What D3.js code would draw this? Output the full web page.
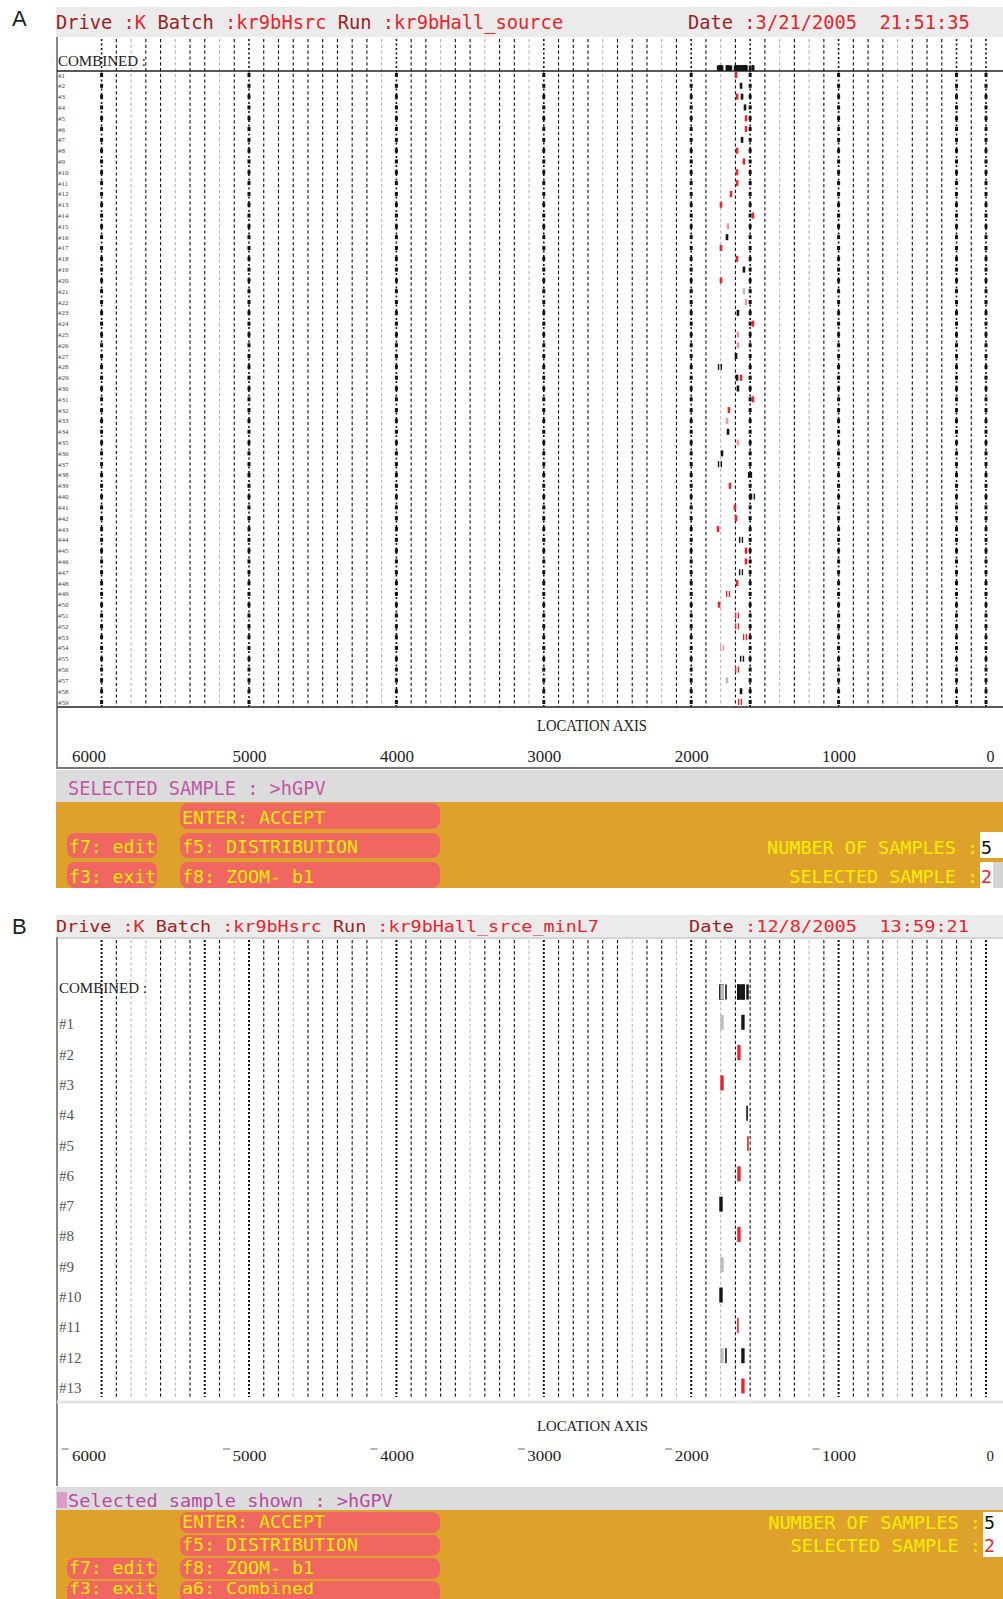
<!DOCTYPE html>
<html>
<head>
<meta charset="utf-8">
<script src="https://cdn.jsdelivr.net/npm/d3@7"></script>
<style>
body { margin: 0; background: #fff; }
svg { display: block; }
text { white-space: pre; }
</style>
</head>
<body>
<div id="chart-area"></div>
<script>
// Data
// ****
const locationTicks = [6000, 5000, 4000, 3000, 2000, 1000, 0]
// size standard lines (bp) drawn bold / faint, the rest are plain dashed
const darkA = [6000, 5000, 4000, 3000, 2000, 1600, 1000, 200, 0]
const lightA = [5800, 5500, 5200, 4100, 3700, 3400, 3100, 2600, 2200, 1800, 1400, 1200, 600]
const darkB = [6000, 5300, 5000, 4000, 3000, 2000, 1000, 0]
const lightB = [5800, 5700, 5500, 5100, 4700, 4100, 3500, 3100, 2400, 2100, 1800, 1200, 600]

const lanesA = d3.range(1, 60).map(i => "#" + i)
const lanesB = d3.range(1, 14).map(i => "#" + i)

// [lane, location, dye, peaks]
const bandsA = [
	[1,1696,"r",1],[2,1662,"k",1],[3,1689,"r",1],[3,1655,"k",1],[4,1635,"k",1],[5,1628,"r",1],
	[6,1628,"r",1],[7,1655,"k",1],[8,1689,"r",1],[9,1642,"r",1],[10,1689,"r",1],[11,1689,"r",1],
	[12,1730,"r",1],[13,1798,"r",1],[14,1581,"r",1],[15,1750,"rl",1],[16,1757,"k",1],[17,1798,"r",1],
	[18,1689,"r",1],[19,1642,"k",1],[20,1798,"r",1],[21,1642,"kl",1],[22,1628,"rl",1],[23,1683,"k",1],
	[24,1581,"r",1],[25,1683,"rl",1],[26,1683,"rl",1],[27,1696,"k",1],[28,1805,"k",2],[29,1689,"k",1],
	[29,1662,"r",1],[30,1683,"k",1],[31,1581,"r",1],[32,1744,"r",1],[33,1757,"rl",1],[34,1750,"k",1],
	[35,1683,"rl",1],[36,1791,"k",1],[37,1805,"k",2],[38,1601,"k",2],[39,1737,"r",1],[40,1581,"k",2],
	[41,1703,"r",1],[42,1696,"r",1],[43,1818,"r",1],[44,1662,"k",2],[45,1628,"r",1],[46,1628,"r",1],
	[47,1662,"k",2],[48,1689,"r",1],[49,1750,"r",2],[50,1811,"r",1],[51,1689,"r",2],[52,1689,"r",2],
	[53,1635,"r",2],[54,1791,"rl",2],[55,1655,"k",2],[56,1689,"r",2],[57,1757,"kl",1],[58,1662,"k",1],
	[59,1669,"r",2]
]

// [lane, location, dye, strength]
const bandsB = [
	[1,1791,"kl",2],[1,1649,"k",2],[2,1676,"r",2],[3,1791,"r",2],[4,1621,"k",1],[5,1615,"r",1],
	[6,1676,"r",2],[7,1798,"k",2],[8,1676,"r",2],[9,1791,"kl",2],[10,1798,"k",2],[11,1683,"r",1],
	[12,1791,"kl",2],[12,1764,"k",1],[12,1649,"k",2],[13,1649,"r",2]
]

const headerA = [["Drive ", "dark"], [":K ", "bright"], ["Batch ", "dark"], [":kr9bHsrc ", "bright"], ["Run ", "dark"], [":kr9bHall_source", "bright"]]
const dateA = [["Date ", "dark"], [":3/21/2005  21:51:35", "bright"]]
const headerB = [["Drive ", "dark"], [":K ", "bright"], ["Batch ", "dark"], [":kr9bHsrc ", "bright"], ["Run ", "dark"], [":kr9bHall_srce_minL7", "bright"]]
const dateB = [["Date ", "dark"], [":12/8/2005  13:59:21", "bright"]]

// Config
// ******
const W = 1003, H = 1599
const mono = "DejaVu Sans Mono"
const serif = "Liberation Serif"
const headColor = {dark: "#9c1d22", bright: "#e8232a"}
const dyeColor = {r: "#e8242c", k: "#151515", rl: "#f49a9a", kl: "#bdbdbd"}
const orange = "#dea22c", btnRed = "#f06660", yellow = "#f6ee00", band = "#dcdcdc"

const svg = d3.select("#chart-area").append("svg").attr("width", W).attr("height", H)
svg.append("rect").attr("width", W).attr("height", H).attr("fill", "#fff")

const x = d3.scaleLinear().domain([6000, 0]).range([101.6, 986])
const gridValues = x.ticks(60)

function lineStyle(v, dark, light) {
	if (dark.includes(v)) return "dark"
	if (light.includes(v)) return "light"
	return "plain"
}

function monoText(g, x0, y, str, size, adv, fill) {
	const s = str.replace(/\s+$/, "")
	return g.append("text")
		.attr("x", x0).attr("y", y)
		.attr("font-family", mono).attr("font-size", size)
		.attr("fill", fill)
		.attr("textLength", s.length * adv).attr("lengthAdjust", "spacingAndGlyphs")
		.text(s)
}

function monoParts(g, x0, y, parts, size, adv) {
	let i = 0
	parts.forEach(([s, c]) => {
		monoText(g, x0 + i * adv, y, s, size, adv, headColor[c])
		i += s.length
	})
}

function button(g, x0, y0, w, h, label, size, adv, base) {
	g.append("rect").attr("x", x0).attr("y", y0).attr("width", w).attr("height", h)
		.attr("rx", 8).attr("fill", btnRed)
	monoText(g, x0 + 2, base || (y0 + h - 5), label, size, adv, yellow)
}

function panelLetter(y, letter) {
	svg.append("text").attr("x", 12).attr("y", y)
		.attr("font-family", "Liberation Sans").attr("font-size", 22).attr("fill", "#222")
		.text(letter)
}

// Panel A
// *******
function drawA() {
	const g = svg.append("g")
	panelLetter(26, "A")

	g.append("rect").attr("x", 56).attr("y", 7).attr("width", W - 56).attr("height", 30).attr("fill", "#ebebeb")
	monoParts(g, 56, 29, headerA, 18.7, 11.27)
	monoParts(g, 688, 29, dateA, 18.7, 11.27)

	const y = d3.scalePoint().domain(lanesA).range([75, 702])

	// grid lines
	gridValues.forEach(v => {
		const st = lineStyle(v, darkA, lightA)
		g.append("line").attr("x1", x(v)).attr("x2", x(v)).attr("y1", 39).attr("y2", 707)
			.attr("stroke", st === "light" ? "#b4b4b4" : "#111")
			.attr("stroke-width", st === "dark" ? 1.6 : 1.1)
			.attr("stroke-dasharray", st === "dark" ? "2,2.5" : "3.2,2.6")
		if (st === "dark") {
			lanesA.forEach(l => {
				g.append("rect").attr("x", x(v) - 1.5).attr("y", y(l) - 2).attr("width", 3).attr("height", 4).attr("fill", "#111")
			})
		}
	})

	// box
	g.append("line").attr("x1", 57).attr("x2", 57).attr("y1", 37).attr("y2", 769).attr("stroke", "#888").attr("stroke-width", 2)
	g.append("line").attr("x1", 57).attr("x2", W).attr("y1", 768).attr("y2", 768).attr("stroke", "#777").attr("stroke-width", 2)
	g.append("line").attr("x1", 57).attr("x2", W).attr("y1", 71).attr("y2", 71).attr("stroke", "#222").attr("stroke-width", 1.4)
	g.append("line").attr("x1", 57).attr("x2", W).attr("y1", 707).attr("y2", 707).attr("stroke", "#222").attr("stroke-width", 1.6)

	g.append("text").attr("x", 58).attr("y", 66).attr("font-family", serif).attr("font-size", 15)
		.attr("textLength", 88).attr("lengthAdjust", "spacingAndGlyphs").attr("fill", "#222").text("COMBINED :")

	g.selectAll(".laneA").data(lanesA).enter().append("text")
		.attr("x", 58).attr("y", d => y(d) + 2.5)
		.attr("font-family", serif).attr("font-size", 7).attr("fill", "#444")
		.text(d => d)

	// combined row: every band found in any lane
	g.selectAll(".combA").data(bandsA).enter().append("rect")
		.attr("x", d => x(d[1]) - 1.2).attr("y", 65.5).attr("width", 2.4).attr("height", 5)
		.attr("fill", "#151515")

	// lane bands
	bandsA.forEach(d => {
		const cy = y("#" + d[0])
		const offs = d[3] === 2 ? [-1.4, 1.4] : [0]
		offs.forEach(o => {
			g.append("rect").attr("x", x(d[1]) + o - (d[3] === 2 ? 0.7 : 1.3)).attr("y", cy - 3)
				.attr("width", d[3] === 2 ? 1.4 : 2.6).attr("height", 6)
				.attr("fill", dyeColor[d[2]])
		})
	})

	// axis
	g.append("text").attr("x", 537).attr("y", 731).attr("font-family", serif).attr("font-size", 16)
		.attr("textLength", 110).attr("lengthAdjust", "spacingAndGlyphs").attr("fill", "#222").text("LOCATION AXIS")
	const axis = d3.axisBottom(x).tickValues(locationTicks).tickSize(0).tickFormat(d3.format("d"))
	const ax = g.append("g").attr("transform", "translate(0,745)").call(axis)
	ax.select(".domain").remove()
	ax.selectAll("text").attr("font-family", serif).attr("font-size", 16).attr("fill", "#222").attr("dy", "0.85em")
		.attr("text-anchor", d => d === 6000 ? "end" : d === 0 ? "start" : "middle")
		.attr("dx", d => d === 6000 ? 4 : 0)
		.attr("textLength", d => d === 0 ? null : 34).attr("lengthAdjust", "spacingAndGlyphs")

	// footer
	g.append("rect").attr("x", 56).attr("y", 770).attr("width", W - 56).attr("height", 32).attr("fill", band)
	monoText(g, 68, 795, "SELECTED SAMPLE : >hGPV", 18.6, 11.2, "#c058a8")
	g.append("rect").attr("x", 56).attr("y", 802).attr("width", W - 56).attr("height", 86).attr("fill", orange)
	button(g, 180, 803, 260, 26, "ENTER: ACCEPT", 18.2, 11)
	button(g, 180, 833, 260, 25, "f5: DISTRIBUTION", 18.2, 11)
	button(g, 180, 862, 260, 26, "f8: ZOOM- b1", 18.2, 11)
	button(g, 67, 833, 90, 25, "f7: edit", 18.1, 10.9)
	button(g, 67, 862, 90, 26, "f3: exit", 18.1, 10.9)
	monoText(g, 978 - 19 * 11.1, 854, "NUMBER OF SAMPLES :", 18.3, 11.1, yellow)
	monoText(g, 978 - 17 * 11.1, 883, "SELECTED SAMPLE :", 18.3, 11.1, yellow)
	g.append("rect").attr("x", 980).attr("y", 832).attr("width", 23).attr("height", 26).attr("fill", "#fff")
	g.append("rect").attr("x", 980).attr("y", 862).attr("width", 13).attr("height", 26).attr("fill", "#fff")
	g.append("rect").attr("x", 993).attr("y", 862).attr("width", 10).attr("height", 26).attr("fill", "#d4d4d4")
	monoText(g, 981, 854, "5", 18.2, 11, "#111")
	monoText(g, 981, 883, "2", 18.2, 11, "#e8232a")
}

// Panel B
// *******
function drawB() {
	const g = svg.append("g")
	panelLetter(934, "B")

	g.append("rect").attr("x", 56).attr("y", 915).attr("width", W - 56).attr("height", 22).attr("fill", "#ebebeb")
	monoParts(g, 56, 932, headerB, 16, 11.08)
	monoParts(g, 689, 932, dateB, 16, 11.2)

	const rows = ["COMBINED"].concat(lanesB)
	const y = d3.scalePoint().domain(rows).range([992, 1386])

	gridValues.forEach(v => {
		const st = lineStyle(v, darkB, lightB)
		g.append("line").attr("x1", x(v)).attr("x2", x(v)).attr("y1", 940).attr("y2", 1397)
			.attr("stroke", st === "light" ? "#b8b8b8" : "#111")
			.attr("stroke-width", st === "dark" ? 2 : 1.1)
			.attr("stroke-dasharray", st === "dark" ? "2,2" : "3.2,2.4")
	})

	g.append("line").attr("x1", 57).attr("x2", 57).attr("y1", 937).attr("y2", 1486).attr("stroke", "#888").attr("stroke-width", 2)
	g.append("line").attr("x1", 57).attr("x2", W).attr("y1", 938).attr("y2", 938).attr("stroke", "#aaa").attr("stroke-width", 1)
	g.append("line").attr("x1", 57).attr("x2", W).attr("y1", 1402).attr("y2", 1402).attr("stroke", "#e4e4e4").attr("stroke-width", 3)

	g.append("text").attr("x", 59).attr("y", 993).attr("font-family", serif).attr("font-size", 15)
		.attr("textLength", 88).attr("lengthAdjust", "spacingAndGlyphs").attr("fill", "#222").text("COMBINED :")
	g.selectAll(".laneB").data(lanesB).enter().append("text")
		.attr("x", 59).attr("y", d => y(d) + 7)
		.attr("font-family", serif).attr("font-size", 15).attr("fill", "#555")
		.text(d => d)

	const bw = d3.scaleOrdinal().domain([1, 2]).range([1.6, 3.4])

	// combined row
	g.selectAll(".combB").data(bandsB).enter().append("rect")
		.attr("x", d => x(d[1]) - bw(d[3]) / 2).attr("y", y("COMBINED") - 7.5)
		.attr("width", d => bw(d[3])).attr("height", 15)
		.attr("fill", d => d[2] === "kl" ? "#bdbdbd" : "#151515")

	g.selectAll(".bandB").data(bandsB).enter().append("rect")
		.attr("x", d => x(d[1]) - bw(d[3]) / 2).attr("y", d => y("#" + d[0]) - 7.5)
		.attr("width", d => bw(d[3])).attr("height", 15)
		.attr("fill", d => dyeColor[d[2]])

	// axis
	g.append("text").attr("x", 537).attr("y", 1431).attr("font-family", serif).attr("font-size", 15)
		.attr("textLength", 111).attr("lengthAdjust", "spacingAndGlyphs").attr("fill", "#222").text("LOCATION AXIS")
	const axis = d3.axisBottom(x).tickValues(locationTicks).tickSize(0).tickFormat(d3.format("d"))
	const ax = g.append("g").attr("transform", "translate(0,1445)").call(axis)
	ax.select(".domain").remove()
	ax.selectAll("text").attr("font-family", serif).attr("font-size", 15).attr("fill", "#222").attr("dy", "0.85em")
		.attr("text-anchor", d => d === 6000 ? "end" : d === 0 ? "start" : "middle")
		.attr("dx", d => d === 6000 ? 4 : 0)
		.attr("textLength", d => d === 0 ? null : 34).attr("lengthAdjust", "spacingAndGlyphs")
	g.selectAll(".tickB").data(locationTicks.filter(d => d > 0)).enter().append("line")
		.attr("x1", d => d === 6000 ? x(d) - 40 : x(d) - 26)
		.attr("x2", d => d === 6000 ? x(d) - 33 : x(d) - 19)
		.attr("y1", 1449).attr("y2", 1449).attr("stroke", "#666").attr("stroke-width", 1)

	// footer
	g.append("rect").attr("x", 56).attr("y", 1487).attr("width", W - 56).attr("height", 23).attr("fill", band)
	g.append("rect").attr("x", 57).attr("y", 1492).attr("width", 10).attr("height", 16).attr("fill", "#d99ccc")
	monoText(g, 68, 1507, "Selected sample shown : >hGPV", 18, 11.2, "#b84aa0")
	g.append("rect").attr("x", 56).attr("y", 1510).attr("width", W - 56).attr("height", 89).attr("fill", orange)
	button(g, 180, 1512, 260, 21, "ENTER: ACCEPT", 17, 11)
	button(g, 180, 1535, 260, 21, "f5: DISTRIBUTION", 17, 11)
	button(g, 180, 1558, 260, 21, "f8: ZOOM- b1", 17, 11)
	button(g, 180, 1581, 260, 22, "a6: Combined", 16, 11, 1594)
	button(g, 67, 1558, 90, 21, "f7: edit", 17, 10.9)
	button(g, 67, 1581, 90, 22, "f3: exit", 16, 10.9, 1594)
	monoText(g, 981 - 19 * 11.2, 1529, "NUMBER OF SAMPLES :", 17, 11.2, yellow)
	monoText(g, 981 - 17 * 11.2, 1552, "SELECTED SAMPLE :", 17, 11.2, yellow)
	g.append("rect").attr("x", 983).attr("y", 1512).attr("width", 20).attr("height", 45).attr("fill", "#fff")
	monoText(g, 984, 1529, "5", 18, 11, "#111")
	monoText(g, 984, 1552, "2", 18, 11, "#e8232a")
}

drawA()
drawB()
</script>
</body>
</html>
